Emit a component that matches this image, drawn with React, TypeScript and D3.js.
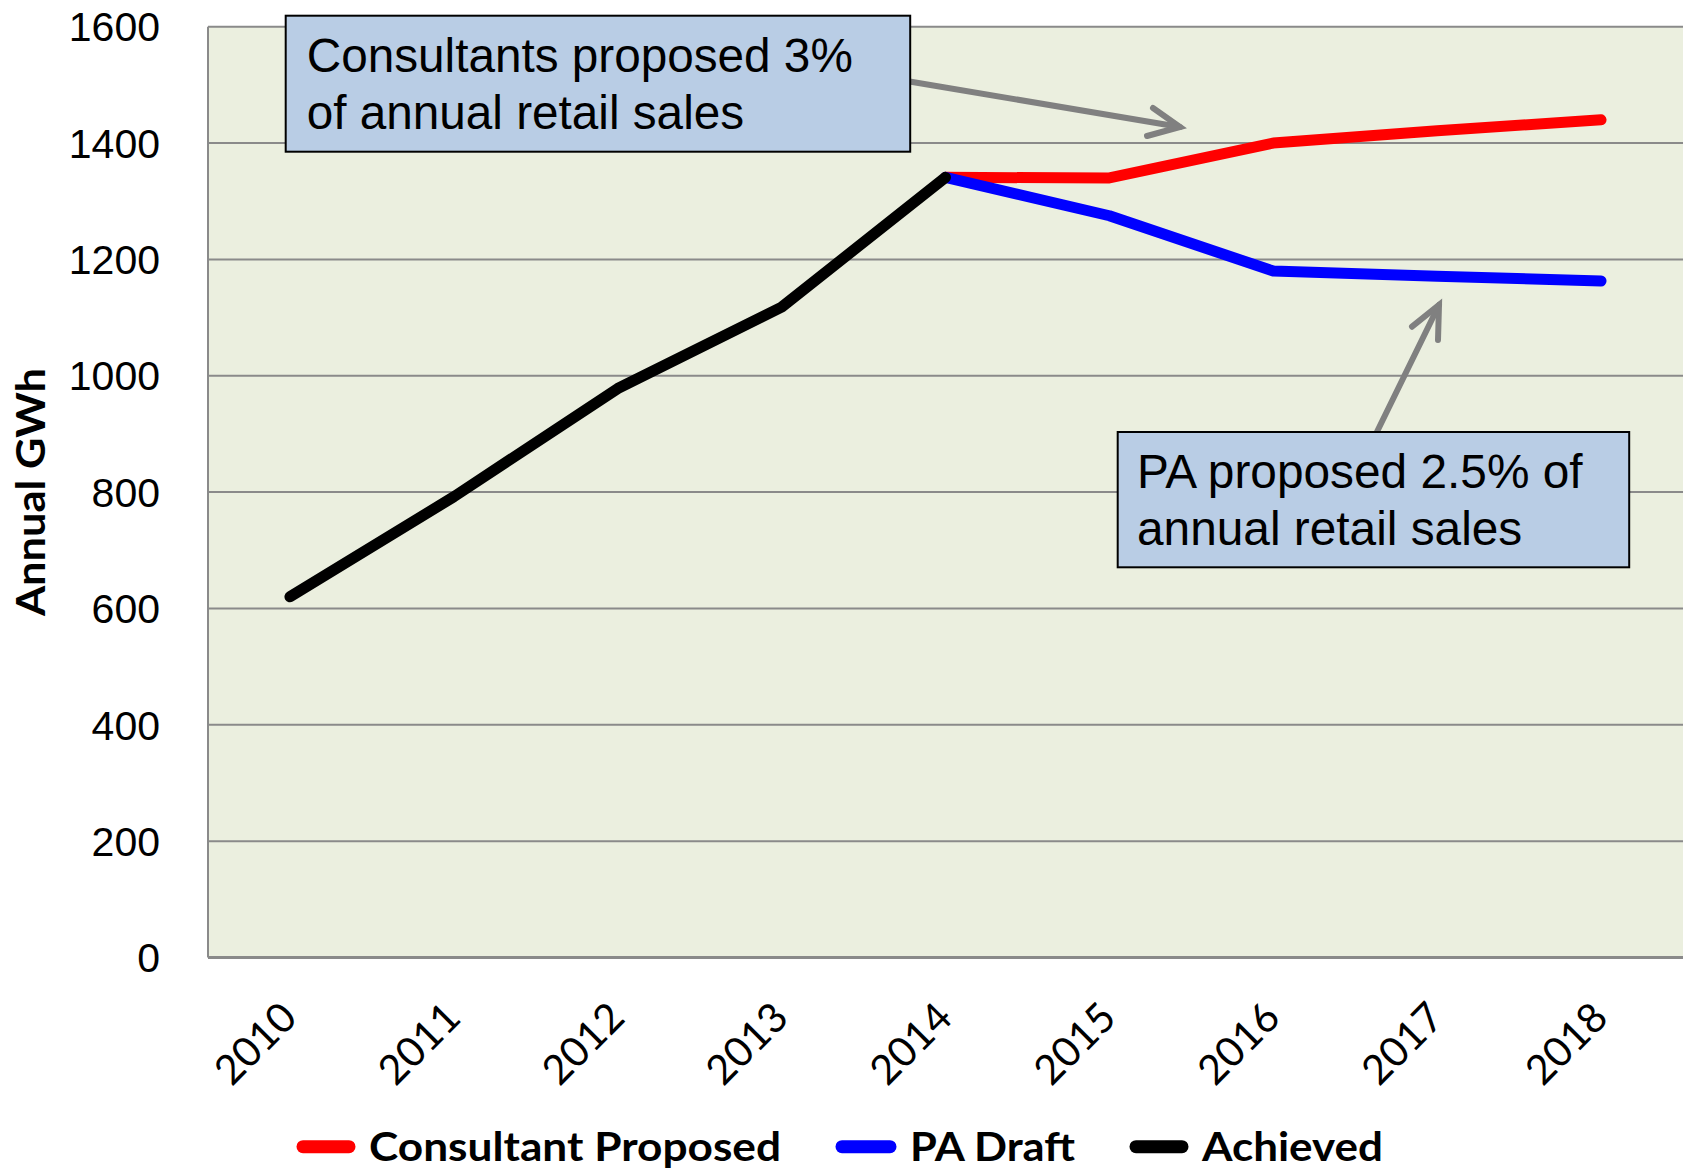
import React, { useEffect, useRef } from "react";
import * as d3 from "d3";

// chart values
const years = ["2010", "2011", "2012", "2013", "2014", "2015", "2016", "2017", "2018"];
const achieved: (number | null)[] = [620, 792, 978, 1118, 1341, null, null, null, null];
const consultantProposed: (number | null)[] = [null, null, null, null, 1341, 1340, 1400, 1421, 1440];
const paDraft: (number | null)[] = [null, null, null, null, 1341, 1275, 1180, 1171, 1163];
const yTicks = [0, 200, 400, 600, 800, 1000, 1200, 1400, 1600];

const seriesList = [
  { name: "Consultant Proposed", values: consultantProposed, color: "#ff0000" },
  { name: "PA Draft", values: paDraft, color: "#0000ff" },
  { name: "Achieved", values: achieved, color: "#000000" },
];

const W = 1685;
const H = 1169;
const plot = { left: 208, right: 1683, top: 26.7, bottom: 957.5 };

const App: React.FC = () => {
  const ref = useRef<SVGSVGElement>(null);

  useEffect(() => {
    const svg = d3.select(ref.current);
    svg.selectAll("*").remove();

    const x = d3.scaleBand<string>().domain(years).range([plot.left, plot.right]).padding(0);
    const y = d3.scaleLinear().domain([0, 1600]).range([plot.bottom, plot.top]);
    const cx = (yr: string) => (x(yr) as number) + x.bandwidth() / 2;

    // plot background
    svg
      .append("rect")
      .attr("x", plot.left)
      .attr("y", plot.top)
      .attr("width", plot.right - plot.left)
      .attr("height", plot.bottom - plot.top)
      .attr("fill", "#ebefdf");

    // gridlines
    svg
      .append("g")
      .selectAll("line")
      .data(yTicks.filter((t) => t > 0))
      .join("line")
      .attr("x1", plot.left)
      .attr("x2", plot.right)
      .attr("y1", (d) => y(d))
      .attr("y2", (d) => y(d))
      .attr("stroke", "#8a8a8a")
      .attr("stroke-width", 2);

    // axis lines
    svg
      .append("line")
      .attr("x1", plot.left)
      .attr("x2", plot.left)
      .attr("y1", plot.top)
      .attr("y2", plot.bottom)
      .attr("stroke", "#8a8a8a")
      .attr("stroke-width", 2);
    svg
      .append("line")
      .attr("x1", plot.left)
      .attr("x2", plot.right)
      .attr("y1", plot.bottom)
      .attr("y2", plot.bottom)
      .attr("stroke", "#8a8a8a")
      .attr("stroke-width", 3);

    // y tick labels
    svg
      .append("g")
      .selectAll("text")
      .data(yTicks)
      .join("text")
      .attr("x", 160)
      .attr("y", (d) => y(d) + 14.7)
      .attr("text-anchor", "end")
      .attr("font-family", "'Liberation Sans', Arial, sans-serif")
      .attr("font-size", 41)
      .attr("fill", "#000")
      .text((d) => d);

    // y title
    svg
      .append("text")
      .attr("transform", "translate(45,492) rotate(-90)")
      .attr("text-anchor", "middle")
      .attr("font-family", "Lato, sans-serif")
      .attr("font-weight", "bold")
      .attr("font-size", 41)
      .attr("textLength", 248)
      .attr("lengthAdjust", "spacingAndGlyphs")
      .text("Annual GWh");

    // x tick labels
    svg
      .append("g")
      .selectAll("text")
      .data(years)
      .join("text")
      .attr("transform", (d) => `translate(${cx(d) + 9},${1020}) rotate(-45)`)
      .attr("text-anchor", "end")
      .attr("font-family", "Lato, sans-serif")
      .attr("font-size", 41)
      .text((d) => d);

    // series lines
    const line = d3
      .line<number | null>()
      .defined((d) => d != null)
      .x((_, i) => cx(years[i]))
      .y((d) => y(d as number));

    seriesList.forEach((s) => {
      svg
        .append("path")
        .datum(s.values)
        .attr("fill", "none")
        .attr("stroke", s.color)
        .attr("stroke-width", 11)
        .attr("stroke-linecap", "round")
        .attr("stroke-linejoin", "round")
        .attr("d", line);
    });

    // annotation arrows
    const arrows = [
      { from: [911, 81.7], to: [1180, 127], wings: [[1153, 108], [1147, 136]] },
      { from: [1377, 431.7], to: [1439, 305], wings: [[1412, 326.7], [1438, 340]] },
    ];
    arrows.forEach((a) => {
      svg
        .append("line")
        .attr("x1", a.from[0])
        .attr("y1", a.from[1])
        .attr("x2", a.to[0])
        .attr("y2", a.to[1])
        .attr("stroke", "#808080")
        .attr("stroke-width", 6)
        .attr("stroke-linecap", "round");
      svg
        .append("polyline")
        .attr("points", [a.wings[0], a.to, a.wings[1]].map((p) => p.join(",")).join(" "))
        .attr("fill", "none")
        .attr("stroke", "#808080")
        .attr("stroke-width", 6)
        .attr("stroke-linecap", "round")
        .attr("stroke-linejoin", "miter");
    });

    // annotation boxes
    const boxes = [
      { x: 285.7, y: 15.7, w: 624.5, h: 136, tx: 306.7, ty: 71.7, fs: 47.7, lines: ["Consultants proposed 3%", "of annual retail sales"] },
      { x: 1117.7, y: 432, w: 511.5, h: 135.3, tx: 1137, ty: 487.7, fs: 47.8, lines: ["PA proposed 2.5% of", "annual retail sales"] },
    ];
    boxes.forEach((b) => {
      svg
        .append("rect")
        .attr("x", b.x)
        .attr("y", b.y)
        .attr("width", b.w)
        .attr("height", b.h)
        .attr("fill", "#b9cde5")
        .attr("stroke", "#000")
        .attr("stroke-width", 2);
      b.lines.forEach((ln, i) => {
        svg
          .append("text")
          .attr("x", b.tx)
          .attr("y", b.ty + i * 57.5)
          .attr("font-family", "'Liberation Sans', Arial, sans-serif")
          .attr("font-size", b.fs)
          .attr("fill", "#000")
          .text(ln);
      });
    });

    // legend
    const legendItems = [
      { x0: 297, x1: 355, tx: 369, tw: 412 },
      { x0: 836, x1: 896, tx: 910, tw: 165 },
      { x0: 1130, x1: 1188, tx: 1202, tw: 181 },
    ];
    seriesList.forEach((s, i) => {
      const li = legendItems[i];
      svg
        .append("line")
        .attr("x1", li.x0 + 6)
        .attr("x2", li.x1 - 6)
        .attr("y1", 1146.7)
        .attr("y2", 1146.7)
        .attr("stroke", s.color)
        .attr("stroke-width", 13)
        .attr("stroke-linecap", "round");
      svg
        .append("text")
        .attr("x", li.tx)
        .attr("y", 1161)
        .attr("font-family", "Lato, sans-serif")
        .attr("font-weight", "bold")
        .attr("font-size", 41)
        .attr("textLength", li.tw)
        .attr("lengthAdjust", "spacingAndGlyphs")
        .text(s.name);
    });
  }, []);

  return (
    <svg
      ref={ref}
      width={W}
      height={H}
      style={{ position: "absolute", left: 0, top: 0, background: "#fff" }}
    />
  );
};

export default App;
